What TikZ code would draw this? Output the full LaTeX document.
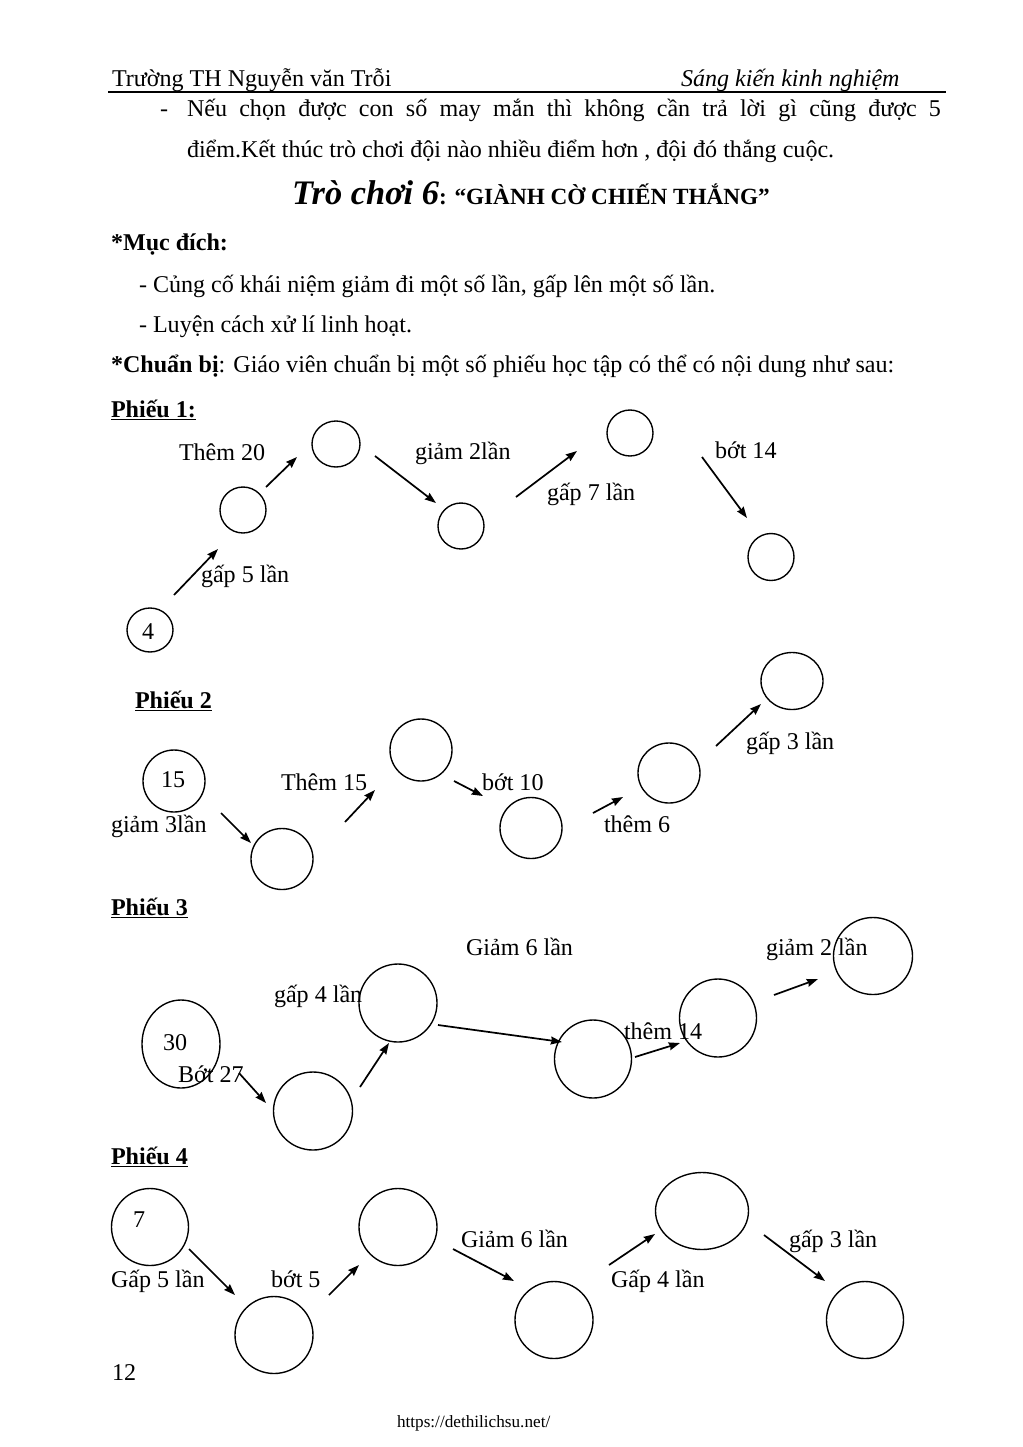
\documentclass[tikz,border=0pt]{standalone}
\usepackage{fontspec}
\setmainfont{Liberation Serif}
\usetikzlibrary{shapes.geometric,arrows.meta}
\newcommand\fsz{\fontsize{14}{17}\selectfont}
\begin{document}
\begin{tikzpicture}[x=0.5816pt,y=-0.5816pt,
  every node/.style={inner sep=0pt,outer sep=0pt,font=\fsz},
  txt/.style={anchor=base west},
  ring/.style n args={2}{draw,ellipse,line width=0.8pt,minimum width=#1*0.5816pt,minimum height=#2*0.5816pt},
  arr/.style={line width=1pt,-{Stealth[length=6.5pt,width=4.6pt,inset=0.6pt]}}]
\useasboundingbox (0,0) rectangle (1023,1447);
% header
\node[txt] (h1) at (112,86) {Trường TH Nguyễn văn Trỗi};
\node[txt] (h2) at (681,86) {\itshape Sáng kiến kinh nghiệm};
\coordinate (hl1) at (108,92); \coordinate (hl2) at (946,92);
\draw[line width=0.6pt] (hl1) -- (hl2);
% intro text
\node[txt] (d1) at (160,116) {-};
\node[txt] (p1) at (187,116) {\makebox[438.5pt][s]{Nếu chọn được con số may mắn thì không cần trả lời gì cũng được 5}};
\node[txt] (p2) at (187,157) {điểm.Kết thúc trò chơi đội nào nhiều điểm hơn , đội đó thắng cuộc.};
\node[txt] (title) at (292,204) {{\fontsize{20}{24}\selectfont\bfseries\itshape Trò chơi 6}{\fontsize{13.5}{16}\selectfont\bfseries: “GIÀNH CỜ CHIẾN THẮNG”}};
\node[txt] (md) at (111,250) {\bfseries *Mục đích:};
\node[txt] (m1) at (139,292) {- Củng cố khái niệm giảm đi một số lần, gấp lên một số lần.};
\node[txt] (m2) at (139,332) {- Luyện cách xử lí linh hoạt.};
\node[txt] (cb) at (111,372) {\textbf{*Chuẩn bị}: Giáo viên chuẩn bị một số phiếu học tập có thể có nội dung như sau:};
% ---------- Phieu 1
\node[txt] (ph1) at (111,417) {\bfseries\underline{Phiếu 1:}};
\node[ring={46}{44}] (a1) at (150,630) {};
\node[txt] (a1t) at (142,639) {4};
\node[ring={46}{46}] (a2) at (243,510) {};
\node[ring={48}{46}] (a3) at (336,444) {};
\node[ring={46}{46}] (a4) at (461,526) {};
\node[ring={46}{46}] (a5) at (630,433) {};
\node[ring={46}{47}] (a6) at (771,557) {};
\node[txt] (l11) at (201,582) {gấp 5 lần};
\node[txt] (l12) at (179,460) {Thêm 20};
\node[txt] (l13) at (415,459) {giảm 2lần};
\node[txt] (l14) at (547,500) {gấp 7 lần};
\node[txt] (l15) at (715,458) {bớt 14};
\coordinate (s11) at (174,595); \coordinate (e11) at (218,549);
\coordinate (s12) at (266,487); \coordinate (e12) at (297,457);
\coordinate (s13) at (375,456); \coordinate (e13) at (436,503);
\coordinate (s14) at (516,497); \coordinate (e14) at (577,451);
\coordinate (s15) at (702,457); \coordinate (e15) at (747,518);
\draw[arr] (s11) -- (e11);
\draw[arr] (s12) -- (e12);
\draw[arr] (s13) -- (e13);
\draw[arr] (s14) -- (e14);
\draw[arr] (s15) -- (e15);
% ---------- Phieu 2
\node[txt] (ph2) at (135,708) {\bfseries\underline{Phiếu 2}};
\node[ring={62}{62}] (b1) at (174,781) {};
\node[txt] (b1t) at (161,787) {15};
\node[ring={62}{61}] (b2) at (282,859) {};
\node[ring={62}{62}] (b3) at (421,750) {};
\node[ring={62}{61}] (b4) at (531,828) {};
\node[ring={62}{60}] (b5) at (669,773) {};
\node[ring={62}{57}] (b6) at (792,681) {};
\node[txt] (l21) at (111,832) {giảm 3lần};
\node[txt] (l22) at (281,790) {Thêm 15};
\node[txt] (l23) at (482,790) {bớt 10};
\node[txt] (l24) at (604,832) {thêm 6};
\node[txt] (l25) at (746,749) {gấp 3 lần};
\coordinate (s21) at (221,813); \coordinate (e21) at (251,843);
\coordinate (s22) at (345,822); \coordinate (e22) at (375,790);
\coordinate (s23) at (454,781); \coordinate (e23) at (483,796);
\coordinate (s24) at (593,813); \coordinate (e24) at (623,797);
\coordinate (s25) at (716,746); \coordinate (e25) at (761,704);
\draw[arr] (s21) -- (e21);
\draw[arr] (s22) -- (e22);
\draw[arr] (s23) -- (e23);
\draw[arr] (s24) -- (e24);
\draw[arr] (s25) -- (e25);
% ---------- Phieu 3
\node[txt] (ph3) at (111,915) {\bfseries\underline{Phiếu 3}};
\node[ring={78}{88}] (c1) at (181,1044) {};
\node[txt] (c1t) at (163,1050) {30};
\node[ring={79}{78}] (c2) at (313,1111) {};
\node[ring={78}{78}] (c3) at (398,1003) {};
\node[ring={77}{78}] (c4) at (593,1059) {};
\node[ring={77}{78}] (c5) at (718,1018) {};
\node[ring={79}{77}] (c6) at (873,956) {};
\node[txt] (l31) at (178,1082) {Bớt 27};
\node[txt] (l32) at (274,1002) {gấp 4 lần};
\node[txt] (l33) at (466,955) {Giảm 6 lần};
\node[txt] (l34) at (624,1039) {thêm 14};
\node[txt] (l35) at (766,955) {giảm 2 lần};
\coordinate (s31) at (239,1073); \coordinate (e31) at (266,1103);
\coordinate (s32) at (360,1087); \coordinate (e32) at (389,1043);
\coordinate (s33) at (438,1025); \coordinate (e33) at (562,1042);
\coordinate (s34) at (635,1057); \coordinate (e34) at (680,1043);
\coordinate (s35) at (774,995); \coordinate (e35) at (818,979);
\draw[arr] (s31) -- (e31);
\draw[arr] (s32) -- (e32);
\draw[arr] (s33) -- (e33);
\draw[arr] (s34) -- (e34);
\draw[arr] (s35) -- (e35);
% ---------- Phieu 4
\node[txt] (ph4) at (111,1164) {\bfseries\underline{Phiếu 4}};
\node[ring={77}{77}] (d1c) at (150,1227) {};
\node[txt] (d1t) at (133,1227) {7};
\node[ring={78}{77}] (d2) at (274,1335) {};
\node[ring={78}{77}] (d3) at (398,1227) {};
\node[ring={78}{77}] (d4) at (554,1320) {};
\node[ring={93}{77}] (d5) at (702,1211) {};
\node[ring={77}{77}] (d6) at (865,1320) {};
\node[txt] (l41) at (111,1287) {Gấp 5 lần};
\node[txt] (l42) at (271,1287) {bớt 5};
\node[txt] (l43) at (461,1247) {Giảm 6 lần};
\node[txt] (l44) at (611,1287) {Gấp 4 lần};
\node[txt] (l45) at (789,1247) {gấp 3 lần};
\coordinate (s41) at (189,1249); \coordinate (e41) at (235,1295);
\coordinate (s42) at (329,1295); \coordinate (e42) at (359,1265);
\coordinate (s43) at (453,1249); \coordinate (e43) at (514,1281);
\coordinate (s44) at (609,1265); \coordinate (e44) at (655,1234);
\coordinate (s45) at (764,1235); \coordinate (e45) at (825,1281);
\draw[arr] (s41) -- (e41);
\draw[arr] (s42) -- (e42);
\draw[arr] (s43) -- (e43);
\draw[arr] (s44) -- (e44);
\draw[arr] (s45) -- (e45);
% footer
\node[txt] (pg) at (112,1380) {12};
\node[txt,font=\fontsize{10}{12}\selectfont] (url) at (397,1427) {https://dethilichsu.net/};
\end{tikzpicture}
\end{document}
